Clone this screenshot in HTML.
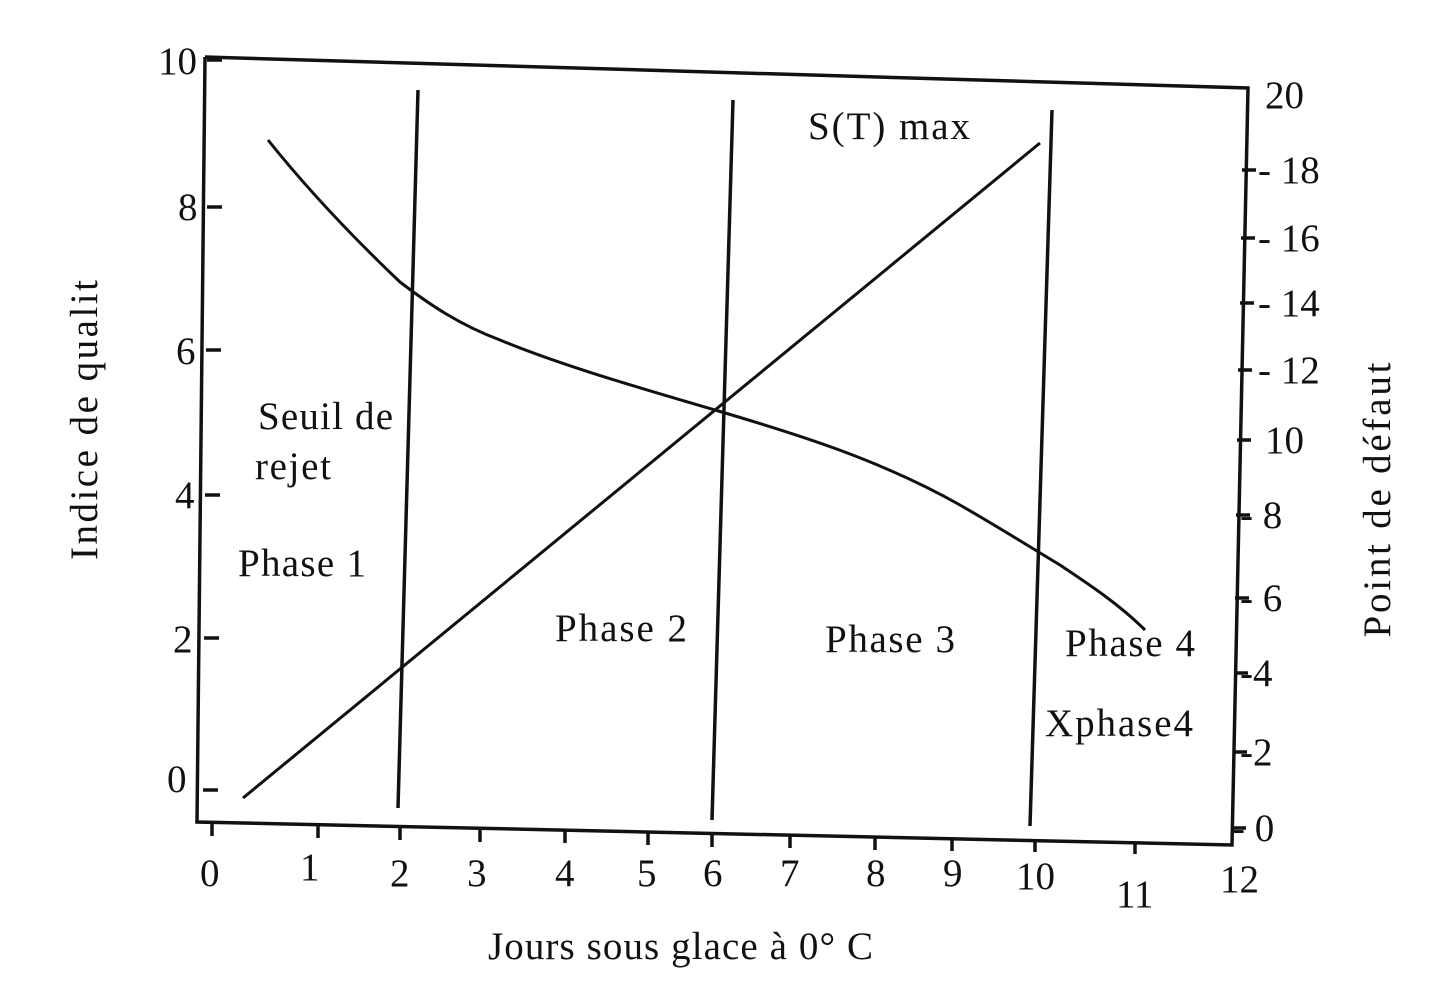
<!DOCTYPE html>
<html><head><meta charset="utf-8"><style>
html,body{margin:0;padding:0;background:#fff;}
svg text{font-family:"Liberation Serif",serif;fill:#111;font-size:39px;}
</style></head><body>
<svg width="1449" height="1002" viewBox="0 0 1449 1002" xmlns="http://www.w3.org/2000/svg">
<g stroke="#111" fill="none" stroke-width="3.5">
<polyline points="205,57 1248,88 1232,845 197,822 205,57"/>
<line x1="207" y1="60" x2="222" y2="60"/>
<line x1="207" y1="207" x2="222" y2="207"/>
<line x1="206" y1="350" x2="221" y2="350"/>
<line x1="205" y1="495" x2="220" y2="495"/>
<line x1="204" y1="638" x2="219" y2="638"/>
<line x1="203" y1="790" x2="218" y2="790"/>
<line x1="212" y1="824" x2="212" y2="836"/>
<line x1="318" y1="826" x2="318" y2="838"/>
<line x1="400" y1="828" x2="400" y2="840"/>
<line x1="480" y1="830" x2="480" y2="842"/>
<line x1="565" y1="831" x2="565" y2="843"/>
<line x1="648" y1="833" x2="648" y2="845"/>
<line x1="712" y1="835" x2="712" y2="847"/>
<line x1="790" y1="836" x2="790" y2="848"/>
<line x1="875" y1="838" x2="875" y2="850"/>
<line x1="952" y1="839" x2="952" y2="851"/>
<line x1="1035" y1="840" x2="1035" y2="852"/>
<line x1="1135" y1="842" x2="1135" y2="854"/>
<line x1="1242" y1="170" x2="1256" y2="170"/>
<line x1="1241" y1="238" x2="1255" y2="238"/>
<line x1="1240" y1="303" x2="1254" y2="303"/>
<line x1="1238" y1="370" x2="1252" y2="370"/>
<line x1="1237" y1="440" x2="1251" y2="440"/>
<line x1="1236" y1="515" x2="1250" y2="515"/>
<line x1="1235" y1="598" x2="1249" y2="598"/>
<line x1="1234" y1="673" x2="1248" y2="673"/>
<line x1="1233" y1="752" x2="1247" y2="752"/>
<line x1="1232" y1="828" x2="1246" y2="828"/>
<line x1="418" y1="90" x2="398" y2="808"/>
<line x1="733" y1="100" x2="712" y2="820"/>
<line x1="1052" y1="110" x2="1030" y2="826"/>
<line x1="243" y1="798" x2="1040" y2="143" stroke-width="3"/>
<path stroke-width="3" d="M268,140 C300,180 340,225 400,282 C430,305 460,325 500,340 C560,365 640,388 715,410 C800,435 880,460 960,505 C1000,528 1035,550 1060,565 C1090,585 1120,605 1145,630"/>
</g>
<text x="158" y="74">10</text>
<text x="178" y="220">8</text>
<text x="176" y="364">6</text>
<text x="175" y="508">4</text>
<text x="173" y="652">2</text>
<text x="167" y="792">0</text>
<text x="1265" y="108">20</text>
<text x="1258" y="183">- 18</text>
<text x="1258" y="251">- 16</text>
<text x="1258" y="316">- 14</text>
<text x="1258" y="383">- 12</text>
<text x="1265" y="453">10</text>
<text x="1240" y="528">- 8</text>
<text x="1240" y="611">- 6</text>
<text x="1240" y="686">-4</text>
<text x="1240" y="765">-2</text>
<text x="1232" y="841">- 0</text>
<text x="200" y="886">0</text>
<text x="300" y="880">1</text>
<text x="390" y="886">2</text>
<text x="467" y="886">3</text>
<text x="555" y="886">4</text>
<text x="637" y="886">5</text>
<text x="703" y="886">6</text>
<text x="780" y="886">7</text>
<text x="866" y="886">8</text>
<text x="943" y="886">9</text>
<text x="1016" y="889">10</text>
<text x="1116" y="907">11</text>
<text x="1220" y="892">12</text>
<text x="808" y="139" textLength="162">S(T) max</text>
<text x="258" y="429" textLength="135">Seuil de</text>
<text x="255" y="479" textLength="76">rejet</text>
<text x="238" y="576" textLength="128">Phase 1</text>
<text x="555" y="641" textLength="132">Phase 2</text>
<text x="825" y="652" textLength="130">Phase 3</text>
<text x="1065" y="656" textLength="130">Phase 4</text>
<text x="1045" y="736" textLength="148">Xphase4</text>
<text x="488" y="959" textLength="385">Jours sous glace à 0° C</text>
<text transform="translate(97,420) rotate(-90)" text-anchor="middle" textLength="280">Indice de qualit</text>
<text transform="translate(1390,500) rotate(-90)" text-anchor="middle" textLength="275">Point de défaut</text>
</svg>
</body></html>
